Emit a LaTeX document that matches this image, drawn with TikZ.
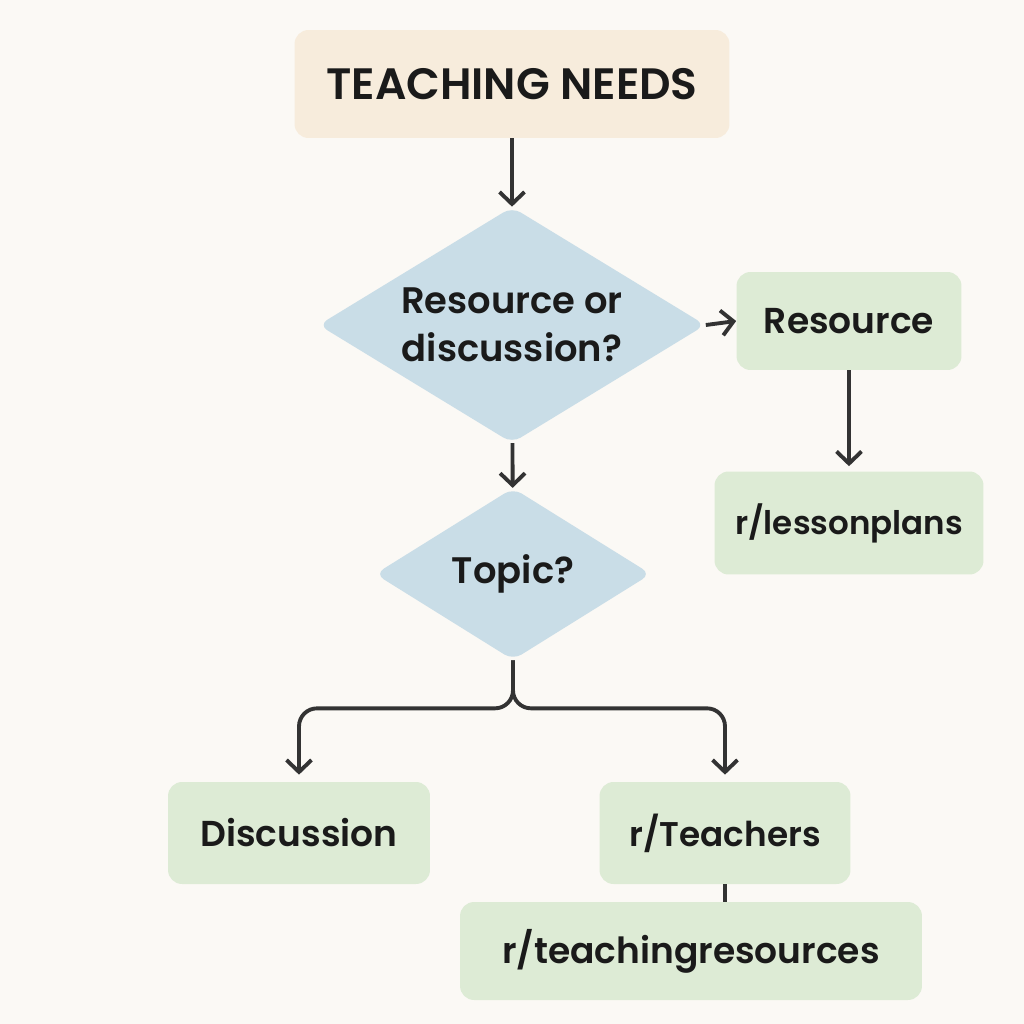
\documentclass[tikz,border=0pt]{standalone}
\usepackage{fontspec}
\setmainfont{Poppins}[UprightFont=* Medium, BoldFont=* SemiBold]
\usetikzlibrary{shapes.geometric,arrows.meta}

\definecolor{paper}{HTML}{FBF9F5}
\definecolor{beige}{HTML}{F7ECDC}
\definecolor{skyblue}{HTML}{C9DDE7}
\definecolor{sage}{HTML}{DDEBD5}
\definecolor{ink}{HTML}{1A1A1A}
\definecolor{wire}{HTML}{333333}

\tikzset{
	box/.style={rectangle, rounded corners=0.28cm, fill=sage, text=ink,
		inner sep=0pt, font=\bfseries\fontsize{20.5}{25}\selectfont},
	ask/.style={diamond, rounded corners=0.2cm, fill=skyblue, text=ink,
		inner sep=0pt, shape aspect=1.64, align=center,
		font=\bfseries\fontsize{21}{27}\selectfont},
	link/.style={draw=wire, line width=2.2pt,
		-{Straight Barb[length=2.4mm,width=5mm,line width=2.2pt]}},
}

\begin{document}
\begin{tikzpicture}[x=0.02cm, y=-0.02cm]
	% canvas in pixels of the 1024 x 1024 reference, y running down
	\fill[paper] (0,0) rectangle (1024,1024);
	\useasboundingbox (0,0) rectangle (1024,1024);
	
	% start
	\node[box, fill=beige, minimum width=8.7cm, minimum height=2.16cm,
		font=\bfseries\fontsize{25}{30}\selectfont] (needs) at (512,84) {TEACHING NEEDS};
	
	% questions
	\node[ask, minimum width=7.74cm, minimum height=4.72cm] (kind) at (512,325) {Resource or\\discussion?};
	\node[ask, minimum width=5.52cm, minimum height=3.44cm] (topic) at (513,574) {Topic?};
	
	% answers
	\node[box, minimum width=4.5cm,  minimum height=1.96cm] (resource) at (849,321) {Resource};
	\node[box, minimum width=5.38cm, minimum height=2.06cm,
		font=\bfseries\fontsize{18.5}{22}\selectfont] (lessons) at (849,523) {r/lessonplans};
	\node[box, minimum width=5.24cm, minimum height=2.04cm] (disc)     at (299,833) {Discussion};
	\node[box, minimum width=5.02cm, minimum height=2.04cm,
		font=\bfseries\fontsize{19.5}{23}\selectfont] (teachers) at (725,833) {r/Teachers};
	\node[box, minimum width=9.24cm, minimum height=1.96cm] (teachres) at (691,951) {r/teachingresources};
	
	\draw[link] (needs) -- (kind);
	\draw[link] (kind.east) -- (resource.west);
	\draw[link, shorten >=0.1cm] (resource) -- (lessons);
	\draw[link] (kind) -- (topic);
	
	% split below the topic
	\draw[link, rounded corners=0.36cm, shorten >=0.14cm] (topic.south) -- ++(0,48) -| (disc.north);
	\draw[link, rounded corners=0.36cm, shorten >=0.14cm] (topic.south) -- ++(0,48) -| (teachers.north);
	
	\draw[wire, line width=2.2pt] (teachers.south) -- (teachers.south |- teachres.north);
	
\end{tikzpicture}
\end{document}
